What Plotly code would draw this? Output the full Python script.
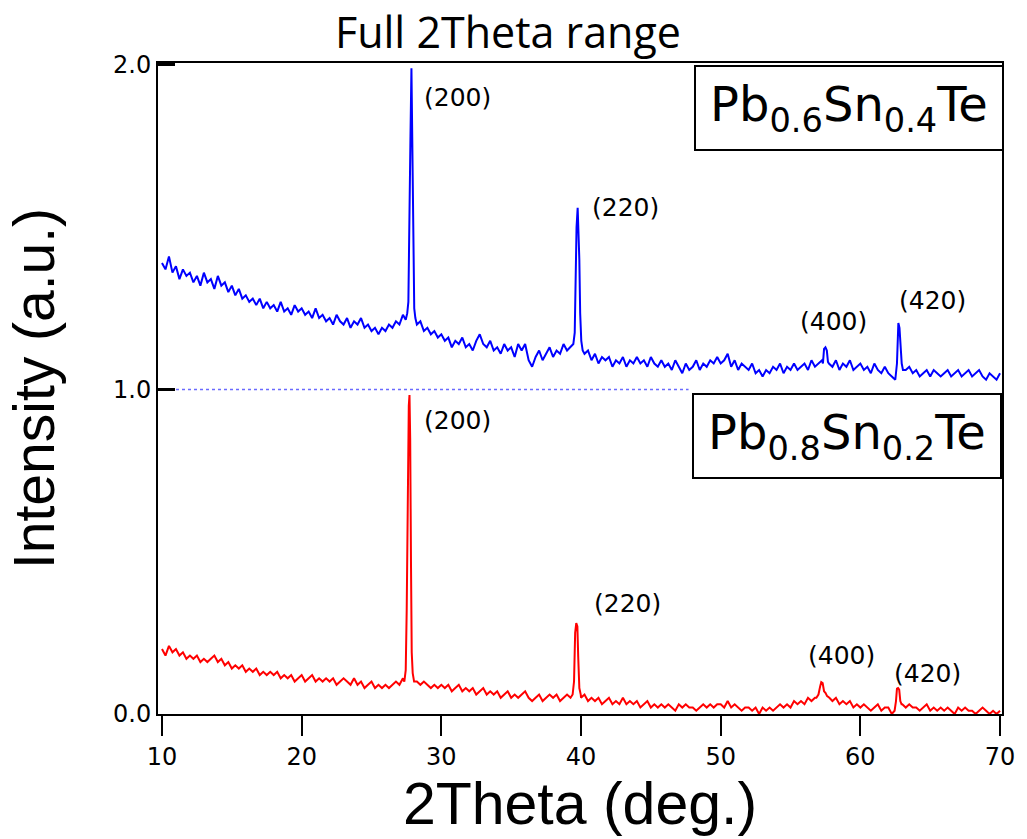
import numpy as np
import plotly.graph_objects as go

# ---------------- data ----------------
GRID_START, GRID_END, GRID_STEP = 10.0, 70.0, 0.25   # sampling positions of background values
BLUE_OFFSET = 1.0          # vertical offset of the Pb0.6Sn0.4Te pattern
BASELINE_END = 47.7        # end of dotted baseline of the offset pattern

# Pb0.6Sn0.4Te background (before offset), one value per 0.25 deg, 10 .. 70
blue_base = [
    0.39, 0.37, 0.41, 0.36, 0.38, 0.34, 0.37, 0.35,
    0.36, 0.33, 0.35, 0.32, 0.36, 0.33, 0.34, 0.31,
    0.35, 0.32, 0.33, 0.30, 0.32, 0.29, 0.31, 0.28,
    0.29, 0.27, 0.28, 0.26, 0.28, 0.25, 0.27, 0.25,
    0.26, 0.24, 0.27, 0.24, 0.25, 0.23, 0.26, 0.24,
    0.25, 0.23, 0.24, 0.22, 0.25, 0.22, 0.23, 0.21,
    0.22, 0.20, 0.23, 0.21, 0.20, 0.22, 0.19, 0.21,
    0.20, 0.22, 0.19, 0.20, 0.18, 0.19, 0.17, 0.19,
    0.18, 0.20, 0.19, 0.21, 0.20, 0.23, 0.22, 0.22,
    0.22, 0.20, 0.21, 0.18, 0.19, 0.17, 0.18, 0.16,
    0.17, 0.15, 0.16, 0.13, 0.15, 0.14, 0.16, 0.13,
    0.14, 0.12, 0.15, 0.17, 0.14, 0.13, 0.15, 0.12,
    0.13, 0.11, 0.14, 0.12, 0.13, 0.10, 0.14, 0.12,
    0.14, 0.09, 0.07, 0.10, 0.12, 0.09, 0.11, 0.13,
    0.10, 0.12, 0.11, 0.14, 0.12, 0.13, 0.14, 0.14,
    0.14, 0.11, 0.12, 0.09, 0.11, 0.08, 0.10, 0.09,
    0.10, 0.07, 0.09, 0.08, 0.10, 0.07, 0.09, 0.08,
    0.10, 0.08, 0.09, 0.07, 0.10, 0.08, 0.07, 0.09,
    0.07, 0.08, 0.06, 0.09, 0.07, 0.05, 0.08, 0.06,
    0.07, 0.09, 0.06, 0.08, 0.07, 0.09, 0.08, 0.10,
    0.08, 0.09, 0.11, 0.07, 0.09, 0.06, 0.08, 0.07,
    0.06, 0.08, 0.05, 0.06, 0.04, 0.06, 0.05, 0.07,
    0.06, 0.08, 0.05, 0.07, 0.06, 0.08, 0.06, 0.07,
    0.08, 0.06, 0.09, 0.07, 0.08, 0.09, 0.13, 0.08,
    0.07, 0.09, 0.06, 0.08, 0.07, 0.09, 0.06, 0.07,
    0.08, 0.06, 0.07, 0.05, 0.08, 0.06, 0.05, 0.07,
    0.05, 0.04, 0.03, 0.18, 0.09, 0.06, 0.07, 0.05,
    0.06, 0.04, 0.05, 0.06, 0.04, 0.06, 0.05, 0.04,
    0.05, 0.06, 0.04, 0.05, 0.06, 0.04, 0.05, 0.06,
    0.04, 0.05, 0.06, 0.04, 0.03, 0.05, 0.04, 0.03,
    0.05,
]

# Pb0.6Sn0.4Te Bragg peaks (x, y before offset)
blue_p200_x = [27.45, 27.56, 27.64, 27.72, 27.79, 27.86, 27.92, 27.98, 28.06, 28.14, 28.22]
blue_p200_y = [0.215, 0.235, 0.27, 0.62, 0.78, 0.99, 0.78, 0.55, 0.25, 0.22, 0.21]
blue_p220_x = [39.45, 39.55, 39.62, 39.68, 39.76, 39.82, 39.88, 39.94, 40.02, 40.12]
blue_p220_y = [0.14, 0.175, 0.38, 0.50, 0.56, 0.50, 0.40, 0.235, 0.15, 0.12]
blue_p400_x = [57.32, 57.40, 57.50, 57.60, 57.68]
blue_p400_y = [0.08, 0.125, 0.13, 0.12, 0.085]
blue_p420_x = [62.50, 62.62, 62.72, 62.80, 62.88, 62.96, 63.05]
blue_p420_y = [0.03, 0.08, 0.205, 0.19, 0.14, 0.08, 0.06]

# Pb0.8Sn0.2Te background, one value per 0.25 deg, 10 .. 70
red_base = [
    0.20, 0.18, 0.21, 0.19, 0.20, 0.18, 0.19, 0.17,
    0.18, 0.17, 0.18, 0.16, 0.17, 0.16, 0.17, 0.18,
    0.16, 0.17, 0.15, 0.16, 0.14, 0.15, 0.14, 0.15,
    0.13, 0.14, 0.13, 0.14, 0.12, 0.13, 0.12, 0.13,
    0.12, 0.13, 0.11, 0.12, 0.11, 0.12, 0.10, 0.11,
    0.12, 0.10, 0.11, 0.12, 0.10, 0.11, 0.10, 0.11,
    0.10, 0.11, 0.09, 0.10, 0.11, 0.10, 0.09, 0.11,
    0.09, 0.10, 0.08, 0.09, 0.10, 0.08, 0.09, 0.08,
    0.09, 0.08, 0.09, 0.10, 0.09, 0.11, 0.12, 0.12,
    0.12, 0.10, 0.09, 0.10, 0.09, 0.08, 0.09, 0.08,
    0.09, 0.08, 0.09, 0.07, 0.08, 0.09, 0.07, 0.08,
    0.07, 0.08, 0.06, 0.07, 0.08, 0.06, 0.07, 0.06,
    0.07, 0.05, 0.06, 0.07, 0.05, 0.06, 0.05, 0.06,
    0.07, 0.05, 0.04, 0.05, 0.06, 0.04, 0.05, 0.06,
    0.05, 0.06, 0.04, 0.05, 0.06, 0.05, 0.10, 0.27,
    0.05, 0.06, 0.04, 0.05, 0.04, 0.05, 0.03, 0.04,
    0.05, 0.03, 0.04, 0.03, 0.05, 0.03, 0.04, 0.03,
    0.04, 0.02, 0.03, 0.04, 0.02, 0.03, 0.02, 0.03,
    0.02, 0.03, 0.02, 0.01, 0.03, 0.02, 0.03, 0.02,
    0.02, 0.01, 0.02, 0.03, 0.02, 0.03, 0.02, 0.03,
    0.03, 0.02, 0.04, 0.02, 0.03, 0.02, 0.01, 0.02,
    0.02, 0.01, 0.02, 0.00, 0.02, 0.01, 0.02, 0.01,
    0.02, 0.03, 0.02, 0.03, 0.02, 0.04, 0.03, 0.04,
    0.03, 0.05, 0.04, 0.05, 0.06, 0.09, 0.06, 0.05,
    0.04, 0.05, 0.03, 0.04, 0.03, 0.04, 0.02, 0.03,
    0.02, 0.03, 0.02, 0.01, 0.02, 0.03, 0.01, 0.02,
    0.02, 0.00, 0.07, 0.08, 0.03, 0.02, 0.03, 0.02,
    0.02, 0.01, 0.02, 0.03, 0.01, 0.02, 0.01, 0.02,
    0.01, 0.02, 0.01, 0.00, 0.02, 0.01, 0.02, 0.01,
    0.01, 0.00, 0.01, 0.02, 0.01, 0.00, 0.01, 0.00,
    0.01,
]

# Pb0.8Sn0.2Te Bragg peaks
red_p200_x = [27.35, 27.45, 27.52, 27.60, 27.67, 27.72, 27.77, 27.83, 27.88, 27.95, 28.05]
red_p200_y = [0.10, 0.135, 0.32, 0.70, 0.95, 0.983, 0.85, 0.45, 0.19, 0.126, 0.10]
red_p220_x = [39.40, 39.50, 39.58, 39.66, 39.74, 39.80, 39.88, 39.98]
red_p220_y = [0.06, 0.10, 0.25, 0.28, 0.27, 0.175, 0.08, 0.06]
red_p400_x = [56.85, 57.00, 57.12, 57.20, 57.30, 57.40, 57.50, 57.62, 57.78]
red_p400_y = [0.05, 0.06, 0.085, 0.098, 0.095, 0.07, 0.065, 0.055, 0.05]
red_p420_x = [62.45, 62.55, 62.62, 62.70, 62.78, 62.86, 62.95]
red_p420_y = [0.01, 0.04, 0.078, 0.08, 0.075, 0.04, 0.03]

# peak labels: (text, x, y) in data coordinates
blue_labels = [("(200)", 31.14, 1.90), ("(220)", 43.17, 1.56),
               ("(400)", 58.11, 1.21), ("(420)", 65.16, 1.275)]
red_labels = [("(200)", 31.14, 0.905), ("(220)", 43.31, 0.342),
              ("(400)", 58.68, 0.179), ("(420)", 64.80, 0.126)]

sample_blue = "Pb<sub>0.6</sub>Sn<sub>0.4</sub>Te"
sample_red = "Pb<sub>0.8</sub>Sn<sub>0.2</sub>Te"

x_ticks = [10, 20, 30, 40, 50, 60, 70]
y_ticks = [0.0, 1.0, 2.0]


# ---------------- build series ----------------
def build(base, peaks):
    grid = np.round(np.arange(GRID_START, GRID_END + 1e-9, GRID_STEP), 3)
    pts = [(gx, gy) for gx, gy in zip(grid, base)
           if not any(px[0] <= gx <= px[-1] for px, _ in peaks)]
    for px, py in peaks:
        pts += list(zip(px, py))
    pts.sort()
    return [p[0] for p in pts], [p[1] for p in pts]


bx, by = build(blue_base, [(blue_p200_x, blue_p200_y), (blue_p220_x, blue_p220_y),
                           (blue_p400_x, blue_p400_y), (blue_p420_x, blue_p420_y)])
rx, ry = build(red_base, [(red_p200_x, red_p200_y), (red_p220_x, red_p220_y),
                          (red_p400_x, red_p400_y), (red_p420_x, red_p420_y)])
by = [v + BLUE_OFFSET for v in by]

W, H = 1027, 839
L, R, T, B = 158, 20, 63, 125
XR = [9.715, 70.14]
YR = [0.0, 2.006]

fig = go.Figure()
fig.add_trace(go.Scatter(x=rx, y=ry, mode="lines",
                         line=dict(color="#ff0000", width=2), showlegend=False))
fig.add_trace(go.Scatter(x=bx, y=by, mode="lines",
                         line=dict(color="#0000ff", width=2), showlegend=False))

fig.add_shape(type="line", xref="x", yref="y", x0=XR[0], x1=BASELINE_END,
              y0=BLUE_OFFSET, y1=BLUE_OFFSET, layer="below",
              line=dict(color="#6a6aff", width=1.5, dash="dot"))

ann_font = dict(family="DejaVu Sans", size=25, color="black")
for txt, ax_, ay_ in blue_labels + red_labels:
    fig.add_annotation(x=ax_, y=ay_, xref="x", yref="y", text=txt,
                       showarrow=False, font=ann_font)


# sample boxes (pixel positions converted to paper coordinates)
def paper_x(px):
    return (px - L) / (W - L - R)


def paper_y(py):
    return (H - B - py) / (H - T - B)


for txt, cx, cy in [(sample_blue, 853, 108), (sample_red, 851, 436)]:
    fig.add_annotation(x=paper_x(cx), y=paper_y(cy), xref="paper", yref="paper",
                       text=txt, showarrow=False, xanchor="center", yanchor="middle",
                       font=dict(family="DejaVu Sans", size=48, color="black"),
                       bgcolor="white", bordercolor="black", borderwidth=2,
                       borderpad=0, width=306, height=82)

fig.update_layout(
    width=W, height=H,
    margin=dict(l=L, r=R, t=T, b=B),
    plot_bgcolor="white", paper_bgcolor="white",
    title=dict(text="Full 2Theta range", xref="paper", x=paper_x(510), xanchor="center",
               yref="container", y=1 - 33 / H, yanchor="middle",
               font=dict(family="Open Sans", size=43, color="black")),
    xaxis=dict(range=XR, tickvals=x_ticks, ticks="outside", ticklen=20, tickwidth=2,
               tickcolor="black", showline=True, linewidth=2, linecolor="black",
               mirror=True, showgrid=False, zeroline=False,
               tickfont=dict(family="DejaVu Sans", size=24, color="black"),
               title=dict(text="2Theta (deg.)", standoff=0,
                          font=dict(family="Liberation Sans", size=59, color="black"))),
    yaxis=dict(range=YR, tickvals=y_ticks, tickformat=".1f", ticks="inside",
               ticklen=17, tickwidth=3, tickcolor="black", showline=True, linewidth=2,
               linecolor="black", mirror=True, showgrid=False, zeroline=False,
               tickfont=dict(family="DejaVu Sans", size=24, color="black"),
               title=dict(text="Intensity (a.u.)", standoff=40,
                          font=dict(family="Liberation Sans", size=57, color="black"))),
)

fig.write_html("out.html")
